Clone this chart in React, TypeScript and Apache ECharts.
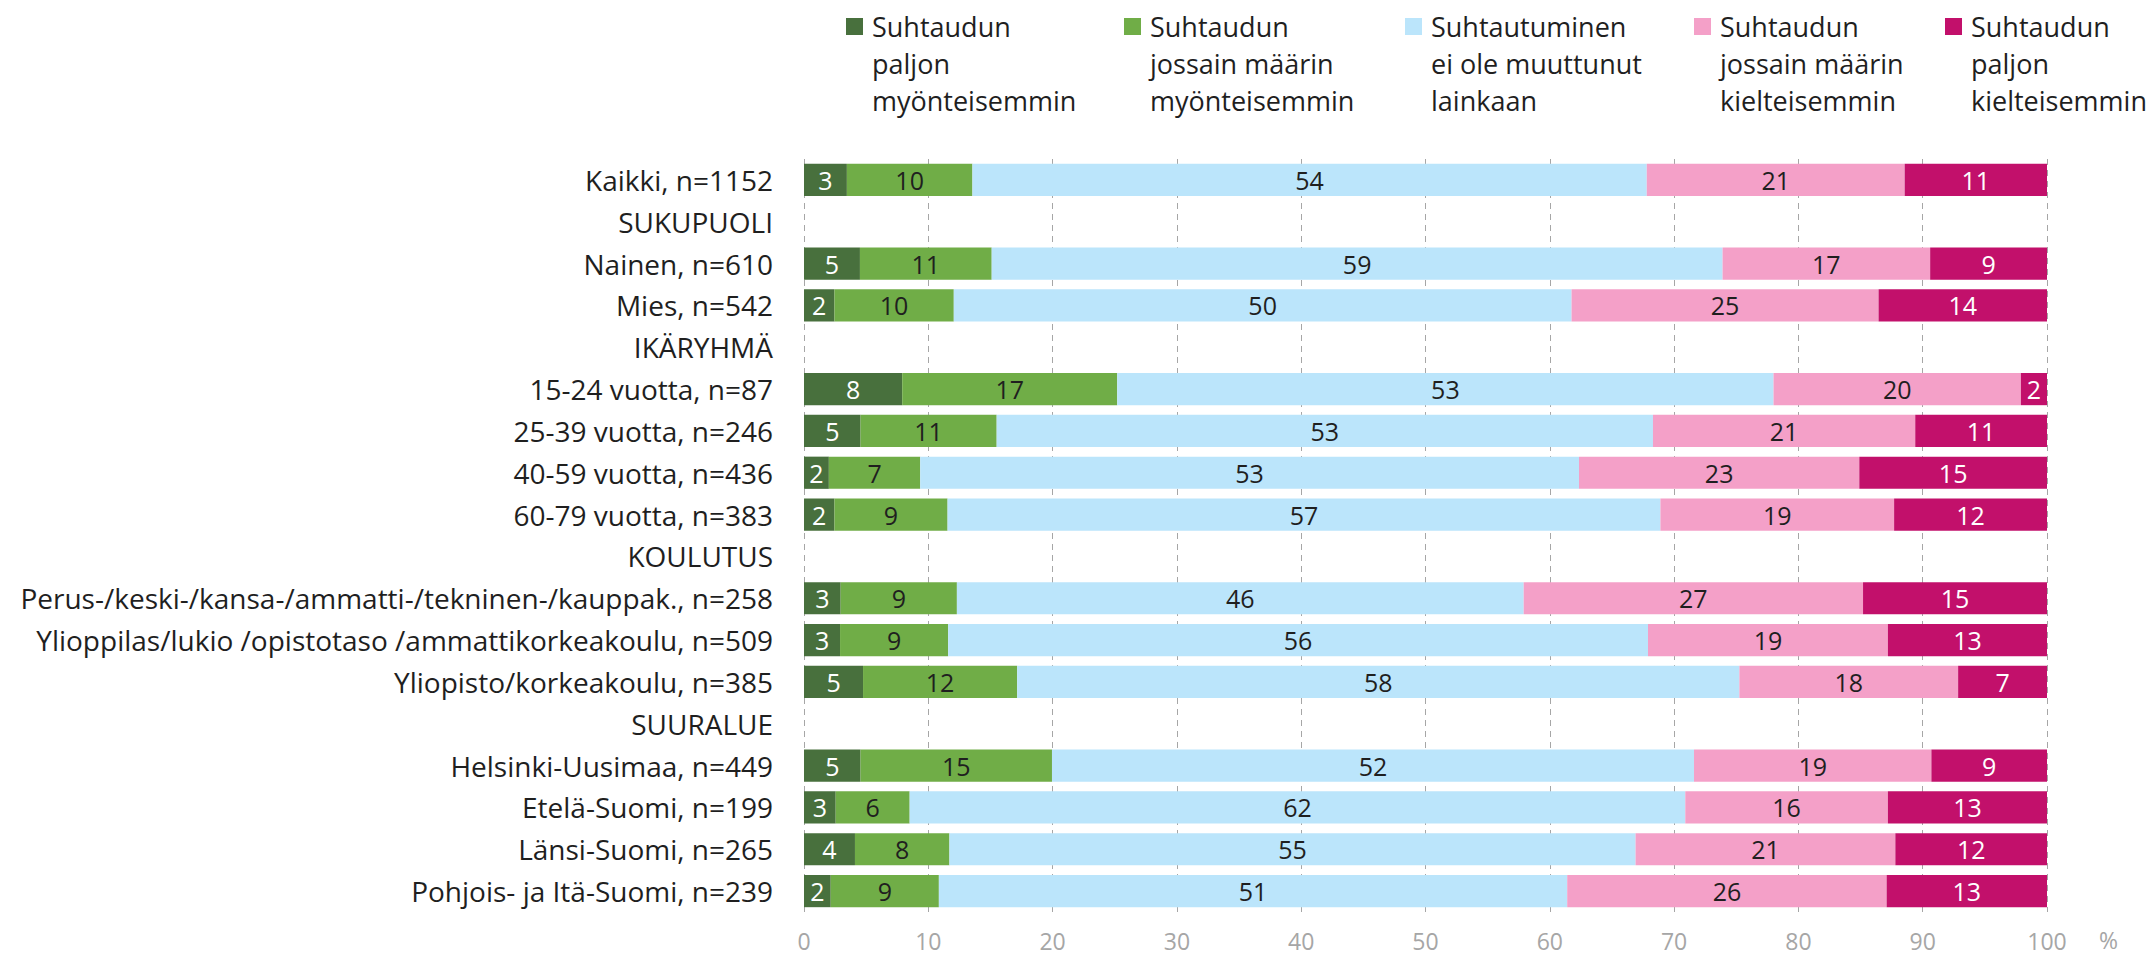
import React, { useEffect, useRef } from "react";
import * as echarts from "echarts";

const categories = [
  "Kaikki, n=1152",
  "SUKUPUOLI",
  "Nainen, n=610",
  "Mies, n=542",
  "IKÄRYHMÄ",
  "15-24 vuotta, n=87",
  "25-39 vuotta, n=246",
  "40-59 vuotta, n=436",
  "60-79 vuotta, n=383",
  "KOULUTUS",
  "Perus-/keski-/kansa-/ammatti-/tekninen-/kauppak., n=258",
  "Ylioppilas/lukio /opistotaso /ammattikorkeakoulu, n=509",
  "Yliopisto/korkeakoulu, n=385",
  "SUURALUE",
  "Helsinki-Uusimaa, n=449",
  "Etelä-Suomi, n=199",
  "Länsi-Suomi, n=265",
  "Pohjois- ja Itä-Suomi, n=239",
];

const seriesNames = [
  "Suhtaudun paljon myönteisemmin",
  "Suhtaudun jossain määrin myönteisemmin",
  "Suhtautuminen ei ole muuttunut lainkaan",
  "Suhtaudun jossain määrin kielteisemmin",
  "Suhtaudun paljon kielteisemmin",
];

const legendLines = [
  "Suhtaudun\npaljon\nmyönteisemmin",
  "Suhtaudun\njossain määrin\nmyönteisemmin",
  "Suhtautuminen\nei ole muuttunut\nlainkaan",
  "Suhtaudun\njossain määrin\nkielteisemmin",
  "Suhtaudun\npaljon\nkielteisemmin",
];

const paljonMyont = [3.45, null, 4.5, 2.45, null, 7.9, 4.55, 2.0, 2.45, null, 2.95, 2.9, 4.75, null, 4.55, 2.55, 4.1, 2.15];
const jossainMyont = [10.1, null, 10.6, 9.6, null, 17.3, 10.95, 7.35, 9.1, null, 9.35, 8.7, 12.4, null, 15.4, 5.95, 7.6, 8.7];
const eiMuuttunut = [54.25, null, 58.8, 49.7, null, 52.8, 52.8, 53.0, 57.35, null, 45.6, 56.3, 58.1, null, 51.65, 62.4, 55.2, 50.55];
const jossainKielt = [20.75, null, 16.7, 24.7, null, 19.9, 21.1, 22.55, 18.8, null, 27.3, 19.3, 17.6, null, 19.1, 16.3, 20.9, 25.7];
const paljonKielt = [11.45, null, 9.4, 13.55, null, 2.1, 10.6, 15.1, 12.3, null, 14.8, 12.8, 7.15, null, 9.3, 12.8, 12.2, 12.9];

const xTicks = [0, 10, 20, 30, 40, 50, 60, 70, 80, 90, 100];

const colors = ["#48703D", "#70AD47", "#BBE5FB", "#F4A0C8", "#C2106B"];
const TEXT = "#1F1F1F";
const labelColors = ["#FFFFFF", TEXT, TEXT, TEXT, "#FFFFFF"];
const FONT = "'Open Sans', 'Noto Sans', sans-serif";

export default function App() {
  const ref = useRef<HTMLDivElement>(null);

  useEffect(() => {
    if (!ref.current) return;
    const chart = echarts.init(ref.current, undefined, { renderer: "svg" });
    const values = [paljonMyont, jossainMyont, eiMuuttunut, jossainKielt, paljonKielt];

    const legendX = [846, 1124, 1405, 1694, 1945];
    const graphic: any[] = [];
    legendLines.forEach((txt, i) => {
      graphic.push({
        type: "rect",
        left: legendX[i],
        top: 18,
        shape: { width: 17, height: 17 },
        style: { fill: colors[i] },
      });
      graphic.push({
        type: "text",
        left: legendX[i] + 26,
        top: 8,
        style: {
          text: txt,
          font: `27px ${FONT}`,
          fill: TEXT,
          lineHeight: 37,
        },
      });
    });

    chart.setOption({
      animation: false,
      textStyle: { fontFamily: FONT },
      grid: { left: 804, right: 109, top: 159, bottom: 45, containLabel: false },
      xAxis: {
        type: "value",
        min: xTicks[0],
        max: xTicks[xTicks.length - 1],
        interval: 10,
        name: "%",
        nameLocation: "end",
        nameGap: 52,
        nameTextStyle: {
          color: "#A6A6A6",
          fontSize: 23,
          fontFamily: FONT,
          verticalAlign: "top",
          padding: [16, 0, 0, 0],
        },
        axisLine: { show: false },
        axisTick: { show: false },
        axisLabel: { color: "#A6A6A6", fontSize: 23, margin: 17, fontFamily: FONT },
        splitLine: { show: true, lineStyle: { color: "#A6A6A6", type: [6, 5], width: 1 } },
      },
      yAxis: {
        type: "category",
        inverse: true,
        data: categories,
        axisLine: { show: false },
        axisTick: { show: false },
        axisLabel: { color: TEXT, fontSize: 28, margin: 31, fontFamily: FONT },
        splitLine: { show: false },
      },
      graphic,
      series: seriesNames.map((name, i) => ({
        name,
        type: "bar",
        stack: "total",
        barCategoryGap: "23%",
        data: values[i].map((v) => (v === null ? "-" : v)),
        itemStyle: { color: colors[i] },
        label: {
          show: true,
          position: "inside",
          color: labelColors[i],
          fontSize: 25,
          fontFamily: FONT,
          formatter: (p: any) => String(Math.round(p.value)),
        },
      })),
    });
    return () => chart.dispose();
  }, []);

  return (
    <div
      ref={ref}
      style={{ position: "fixed", left: 0, top: 0, width: 2156, height: 957, background: "#fff" }}
    />
  );
}
